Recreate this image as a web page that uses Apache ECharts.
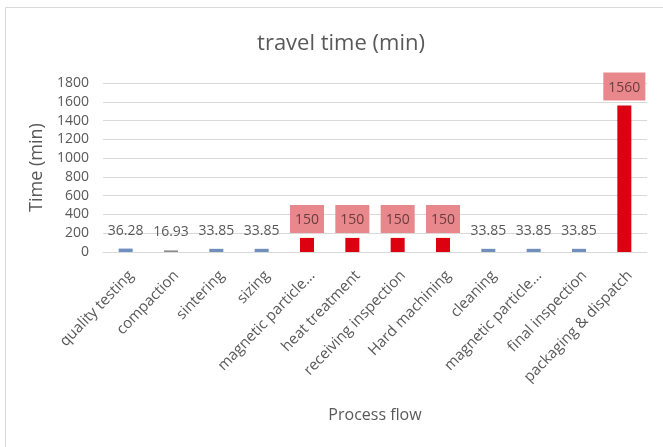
<!DOCTYPE html>
<html>
<head>
<meta charset="utf-8">
<script src="https://cdn.jsdelivr.net/npm/echarts@6/dist/echarts.min.js"></script>
<style>
  html, body { margin: 0; padding: 0; background: #ffffff; }
  #chart { width: 663px; height: 447px; }
</style>
</head>
<body>
<div id="chart"></div>
<script>
// Process steps along the flow and their travel time in minutes
const categories = [
  'quality testing', 'compaction', 'sintering', 'sizing',
  'magnetic particle...', 'heat treatment', 'receiving inspection', 'Hard machining',
  'cleaning', 'magnetic particle...', 'final inspection', 'packaging & dispatch'
];
const travelTime = [36.28, 16.93, 33.85, 33.85, 150, 150, 150, 150, 33.85, 33.85, 33.85, 1560];
const yTicks = [0, 200, 400, 600, 800, 1000, 1200, 1400, 1600, 1800];

const textGrey = '#595959';
const font = '"Open Sans", sans-serif';
const LONG_THRESHOLD = 100;   // steps above this are flagged in red

function barColor(v, i) {
  if (v > LONG_THRESHOLD) return '#dc0010';
  if (categories[i] === 'compaction') return '#8c8c8c';
  return '#6f8fbf';
}

const seriesData = travelTime.map((v, i) => {
  const long = v > LONG_THRESHOLD;
  return {
    value: v,
    itemStyle: { color: barColor(v, i) },
    label: long
      ? { backgroundColor: '#e8888c', color: '#6e3b3d' }
      : { backgroundColor: 'transparent', color: textGrey }
  };
});

const chart = echarts.init(document.getElementById('chart'), null, { renderer: 'canvas' });

chart.setOption({
  animation: false,
  backgroundColor: '#ffffff',
  title: {
    text: 'travel time (min)',
    left: 336,
    top: 28,
    textAlign: 'center',
    textStyle: { fontFamily: font, fontSize: 22, fontWeight: 'normal', color: textGrey }
  },
  graphic: [{
    type: 'rect',
    shape: { x: 5.5, y: 7.5, width: 700, height: 500 },
    style: { fill: 'none', stroke: '#d9d9d9', lineWidth: 1 },
    silent: true,
    z: -1
  }],
  grid: { left: 103, right: 16, top: 83, bottom: 195, containLabel: false },
  xAxis: {
    type: 'category',
    data: categories,
    name: 'Process flow',
    nameLocation: 'middle',
    nameGap: 155,
    nameTextStyle: { fontFamily: font, fontSize: 16, color: textGrey },
    axisLine: { lineStyle: { color: '#d9d9d9' } },
    axisTick: { show: false },
    axisLabel: {
      interval: 0,
      rotate: 46,
      margin: 16,
      verticalAlign: 'top',
      fontFamily: font,
      fontSize: 15,
      color: textGrey
    }
  },
  yAxis: {
    type: 'value',
    min: yTicks[0],
    max: yTicks[yTicks.length - 1],
    interval: 200,
    name: 'Time (min)',
    nameLocation: 'middle',
    nameGap: 38,
    nameTextStyle: { fontFamily: font, fontSize: 18, color: textGrey },
    axisLine: { show: false },
    axisTick: { show: false },
    splitLine: { lineStyle: { color: '#d9d9d9' } },
    axisLabel: {
      margin: 14,
      fontFamily: font,
      fontSize: 14,
      color: textGrey,
      formatter: (v) => String(v)
    }
  },
  series: [{
    type: 'bar',
    data: seriesData,
    barWidth: 14,
    label: {
      show: true,
      position: 'top',
      distance: 5,
      padding: [8, 5, 6, 5],
      fontFamily: font,
      fontSize: 14
    }
  }]
});
</script>
</body>
</html>
